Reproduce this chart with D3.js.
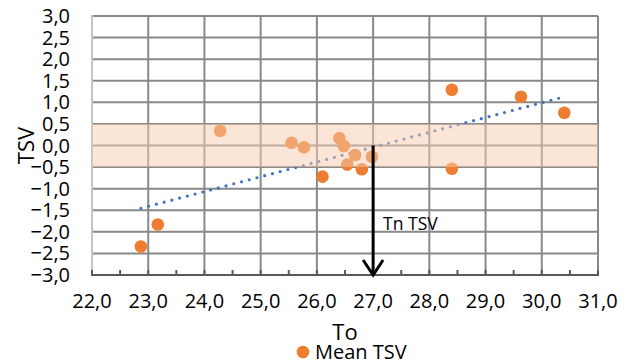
<!DOCTYPE html>
<html>
<head>
<meta charset="utf-8">
<script src="https://cdn.jsdelivr.net/npm/d3@7"></script>
<style>
  html, body { margin: 0; padding: 0; background: #fff; }
  svg { display: block; font-family: "Open Sans", "Liberation Sans", sans-serif; }
</style>
</head>
<body>
<svg id="chart" width="629" height="364"></svg>
<script>
// Operative temperature (To) against mean thermal sensation vote
const operativeTemp = [22.87, 23.17, 24.28, 25.55, 25.77, 26.10, 26.40, 26.48, 26.54, 26.68, 26.80, 26.98, 28.40, 28.40, 29.63, 30.40];
const meanTSV       = [-2.34, -1.83, 0.34, 0.065, -0.04, -0.72, 0.17, -0.01, -0.44, -0.22, -0.55, -0.26, 1.29, -0.54, 1.13, 0.76];

// Axis ranges and tick values
const xTicks = [22, 23, 24, 25, 26, 27, 28, 29, 30, 31];
const yTicks = [-3, -2.5, -2, -1.5, -1, -0.5, 0, 0.5, 1, 1.5, 2, 2.5, 3];
const comfortBand = [-0.5, 0.5];
const neutralTemp = 27.0;

const seriesName = "Mean TSV";
const xTitle = "To";
const yTitle = "TSV";
const neutralLabel = "Tn TSV";

const svg = d3.select("#chart");
const m = { left: 92, top: 16, right: 31, bottom: 89 };
const W = 629 - m.left - m.right;
const H = 364 - m.top - m.bottom;

const x = d3.scaleLinear().domain([22, 31]).range([m.left, m.left + W]);
const y = d3.scaleLinear().domain([-3, 3]).range([m.top + H, m.top]);

const fmt = d3.formatLocale({ decimal: ",", thousands: ".", grouping: [3], currency: ["", ""] }).format(".1f");

// Gridlines
const grid = svg.append("g");
grid.selectAll("line.h").data(yTicks.filter(v => v > -3)).join("line")
  .attr("x1", m.left).attr("x2", m.left + W)
  .attr("y1", d => y(d)).attr("y2", d => y(d))
  .attr("stroke", "#898989").attr("stroke-width", 2);
grid.selectAll("line.v").data(xTicks.filter(v => v > 22)).join("line")
  .attr("x1", d => x(d)).attr("x2", d => x(d))
  .attr("y1", m.top).attr("y2", m.top + H)
  .attr("stroke", "#898989").attr("stroke-width", 2);

// Vertical axis line
svg.append("line")
  .attr("x1", m.left).attr("x2", m.left)
  .attr("y1", m.top - 1).attr("y2", m.top + H)
  .attr("stroke", "#c4c4c4").attr("stroke-width", 2);

// Linear trendline (least squares) across the data range
const mx = d3.mean(operativeTemp), my = d3.mean(meanTSV);
let sxy = 0, sxx = 0;
operativeTemp.forEach((t, i) => { sxy += (t - mx) * (meanTSV[i] - my); sxx += (t - mx) * (t - mx); });
const slope = sxy / sxx, intercept = my - slope * mx;
const [tMin, tMax] = d3.extent(operativeTemp);
svg.append("line")
  .attr("x1", x(tMin)).attr("y1", y(intercept + slope * tMin))
  .attr("x2", x(tMax)).attr("y2", y(intercept + slope * tMax))
  .attr("stroke", "#4472C4").attr("stroke-width", 3.2)
  .attr("stroke-linecap", "round").attr("stroke-dasharray", "0 8");

// Points
svg.append("g").selectAll("circle").data(operativeTemp).join("circle")
  .attr("cx", d => x(d)).attr("cy", (d, i) => y(meanTSV[i]))
  .attr("r", 6.3).attr("fill", "#ED7D31");

// Comfort band, translucent over the marks
svg.append("rect")
  .attr("x", m.left).attr("width", W)
  .attr("y", y(comfortBand[1])).attr("height", y(comfortBand[0]) - y(comfortBand[1]))
  .attr("fill", "#F8CBAD").attr("opacity", 0.5);

// Bottom axis with ticks every half unit
const ax = svg.append("g");
ax.append("line")
  .attr("x1", m.left - 1).attr("x2", m.left + W + 1)
  .attr("y1", y(-3)).attr("y2", y(-3))
  .attr("stroke", "#595959").attr("stroke-width", 2);
ax.selectAll("line.tick").data(d3.range(22, 31.01, 0.5)).join("line")
  .attr("x1", d => x(d)).attr("x2", d => x(d))
  .attr("y1", y(-3)).attr("y2", y(-3) - 5)
  .attr("stroke", "#595959").attr("stroke-width", 2);

// Tick labels
svg.append("g").selectAll("text").data(xTicks).join("text")
  .attr("x", d => x(d)).attr("y", m.top + H + 33)
  .attr("text-anchor", "middle").attr("font-size", 20).attr("fill", "#000")
  .text(d => fmt(d));
svg.append("g").selectAll("text").data(yTicks).join("text")
  .attr("x", 70).attr("y", d => y(d)).attr("dy", "0.35em")
  .attr("text-anchor", "end").attr("font-size", 20).attr("fill", "#000")
  .text(d => fmt(d));

// Axis titles
svg.append("text").attr("x", m.left + W / 2).attr("y", 340)
  .attr("text-anchor", "middle").attr("font-size", 22).text(xTitle);
svg.append("text")
  .attr("transform", `translate(34,${m.top + H / 2}) rotate(-90)`)
  .attr("text-anchor", "middle").attr("font-size", 22).text(yTitle);

// Neutral temperature arrow
const ay0 = y(0), ay1 = y(-3);
svg.append("line")
  .attr("x1", x(neutralTemp)).attr("x2", x(neutralTemp))
  .attr("y1", ay0).attr("y2", ay1)
  .attr("stroke", "#000").attr("stroke-width", 3);
svg.append("path")
  .attr("d", `M${x(neutralTemp) - 10},${ay1 - 15} L${x(neutralTemp)},${ay1} L${x(neutralTemp) + 10},${ay1 - 15}`)
  .attr("fill", "none").attr("stroke", "#000").attr("stroke-width", 3);
svg.append("text").attr("x", x(neutralTemp) + 10).attr("y", 230)
  .attr("font-size", 17.5).text(neutralLabel);

// Legend
svg.append("circle").attr("cx", 303).attr("cy", 352).attr("r", 6.3).attr("fill", "#ED7D31");
svg.append("text").attr("x", 315).attr("y", 359).attr("font-size", 20).text(seriesName);
</script>
</body>
</html>
